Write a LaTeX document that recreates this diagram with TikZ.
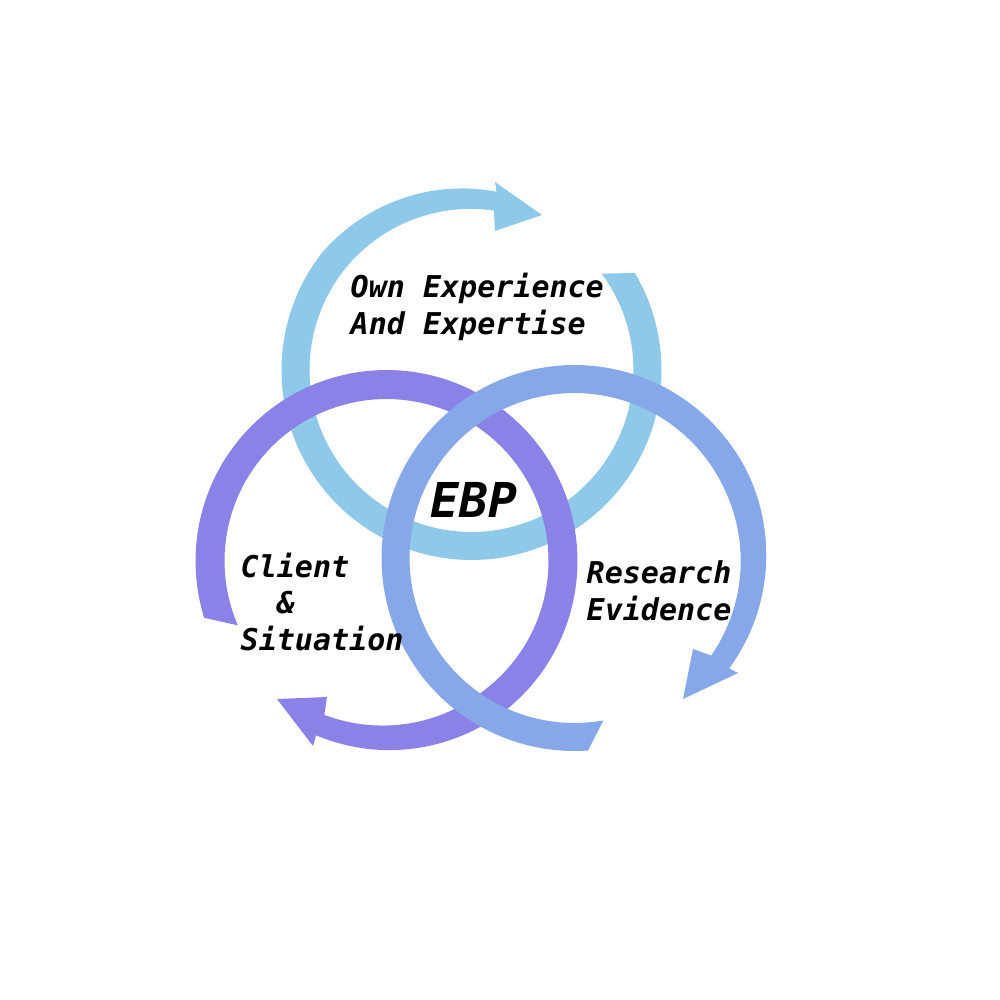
\documentclass[tikz,border=0pt]{standalone}
\usepackage{fontspec}
\usepackage{xcolor}
\newfontfamily\ebpfont{DejaVu Sans Mono}
\usetikzlibrary{positioning}

\definecolor{expblue}{HTML}{8EC9E9}
\definecolor{clientpurple}{HTML}{8A82E6}
\definecolor{researchblue}{HTML}{87A8E8}

\begin{document}
\begin{tikzpicture}[x=0.01cm,y=-0.01cm,
    declare function={rr(\t,\r,\h,\e)=\r+(\h-\r)*max(0,(\t-\e+60)/60);},
    lbl/.style={font=\ebpfont\bfseries\itshape\fontsize{8.54}{10.25}\selectfont,
      align=left,inner sep=0pt,anchor=base west},
    bigl/.style={font=\ebpfont\bfseries\itshape\fontsize{13.66}{16}\selectfont,
      inner sep=0pt,anchor=base west}]
      \useasboundingbox[fill=white] (0,0) rectangle (1000,1000);

      % own experience ring
      \coordinate (lwo) at (495,182);
      \coordinate (ltip) at (542,215);
      \coordinate (lwi) at (495,231);
      \fill[expblue] plot[domain=-30.7:278,samples=120]
          ({471.5+rr(\x,190,180,278)*cos(\x)},{370+rr(\x,190,180,278)*sin(\x)})
        -- (lwo) -- (ltip) -- (lwi)
        -- plot[domain=278:-36.5,samples=120]
          ({471.5+rr(\x,162,161,278)*cos(\x)},{370+rr(\x,162,161,278)*sin(\x)})
        -- cycle;

      % client ring
      \coordinate (pwo) at (313,746);
      \coordinate (ptip) at (277,699);
      \coordinate (pwi) at (327,697);
      \fill[clientpurple] plot[domain=162.7:472,samples=120]
          ({386.5+rr(\x,191,188,472)*cos(\x)},{561+rr(\x,191,188,472)*sin(\x)})
        -- (pwo) -- (ptip) -- (pwi)
        -- plot[domain=472:156.6,samples=120]
          ({386.5+rr(\x,162,166,472)*cos(\x)},{561+rr(\x,162,166,472)*sin(\x)})
        -- cycle;

      % research ring
      \coordinate (mwo) at (738,673);
      \coordinate (mtip) at (683,699);
      \coordinate (mwi) at (693,649);
      \fill[researchblue] plot[domain=86:395.5,samples=120]
          ({574.5+rr(\x,193,190,395.5)*cos(\x)},{558+rr(\x,193,190,395.5)*sin(\x)})
        -- (mwo) -- (mtip) -- (mwi)
        -- plot[domain=395.5:79.9,samples=120]
          ({574.5+rr(\x,165,168,395.5)*cos(\x)},{558+rr(\x,165,168,395.5)*sin(\x)})
        -- cycle;

      % multi-line labels sit on their last baseline
      \node[lbl] (expertise) at (350,334) {Own Experience\\And Expertise};
      \node[lbl] (client) at (240,650) {Client\\\phantom{Cl}\&\\Situation};
      \node[lbl] (research) at (586,620) {Research\\Evidence};
      \node[bigl] (ebp) at (430,517) {EBP};
    \end{tikzpicture}
\end{document}
